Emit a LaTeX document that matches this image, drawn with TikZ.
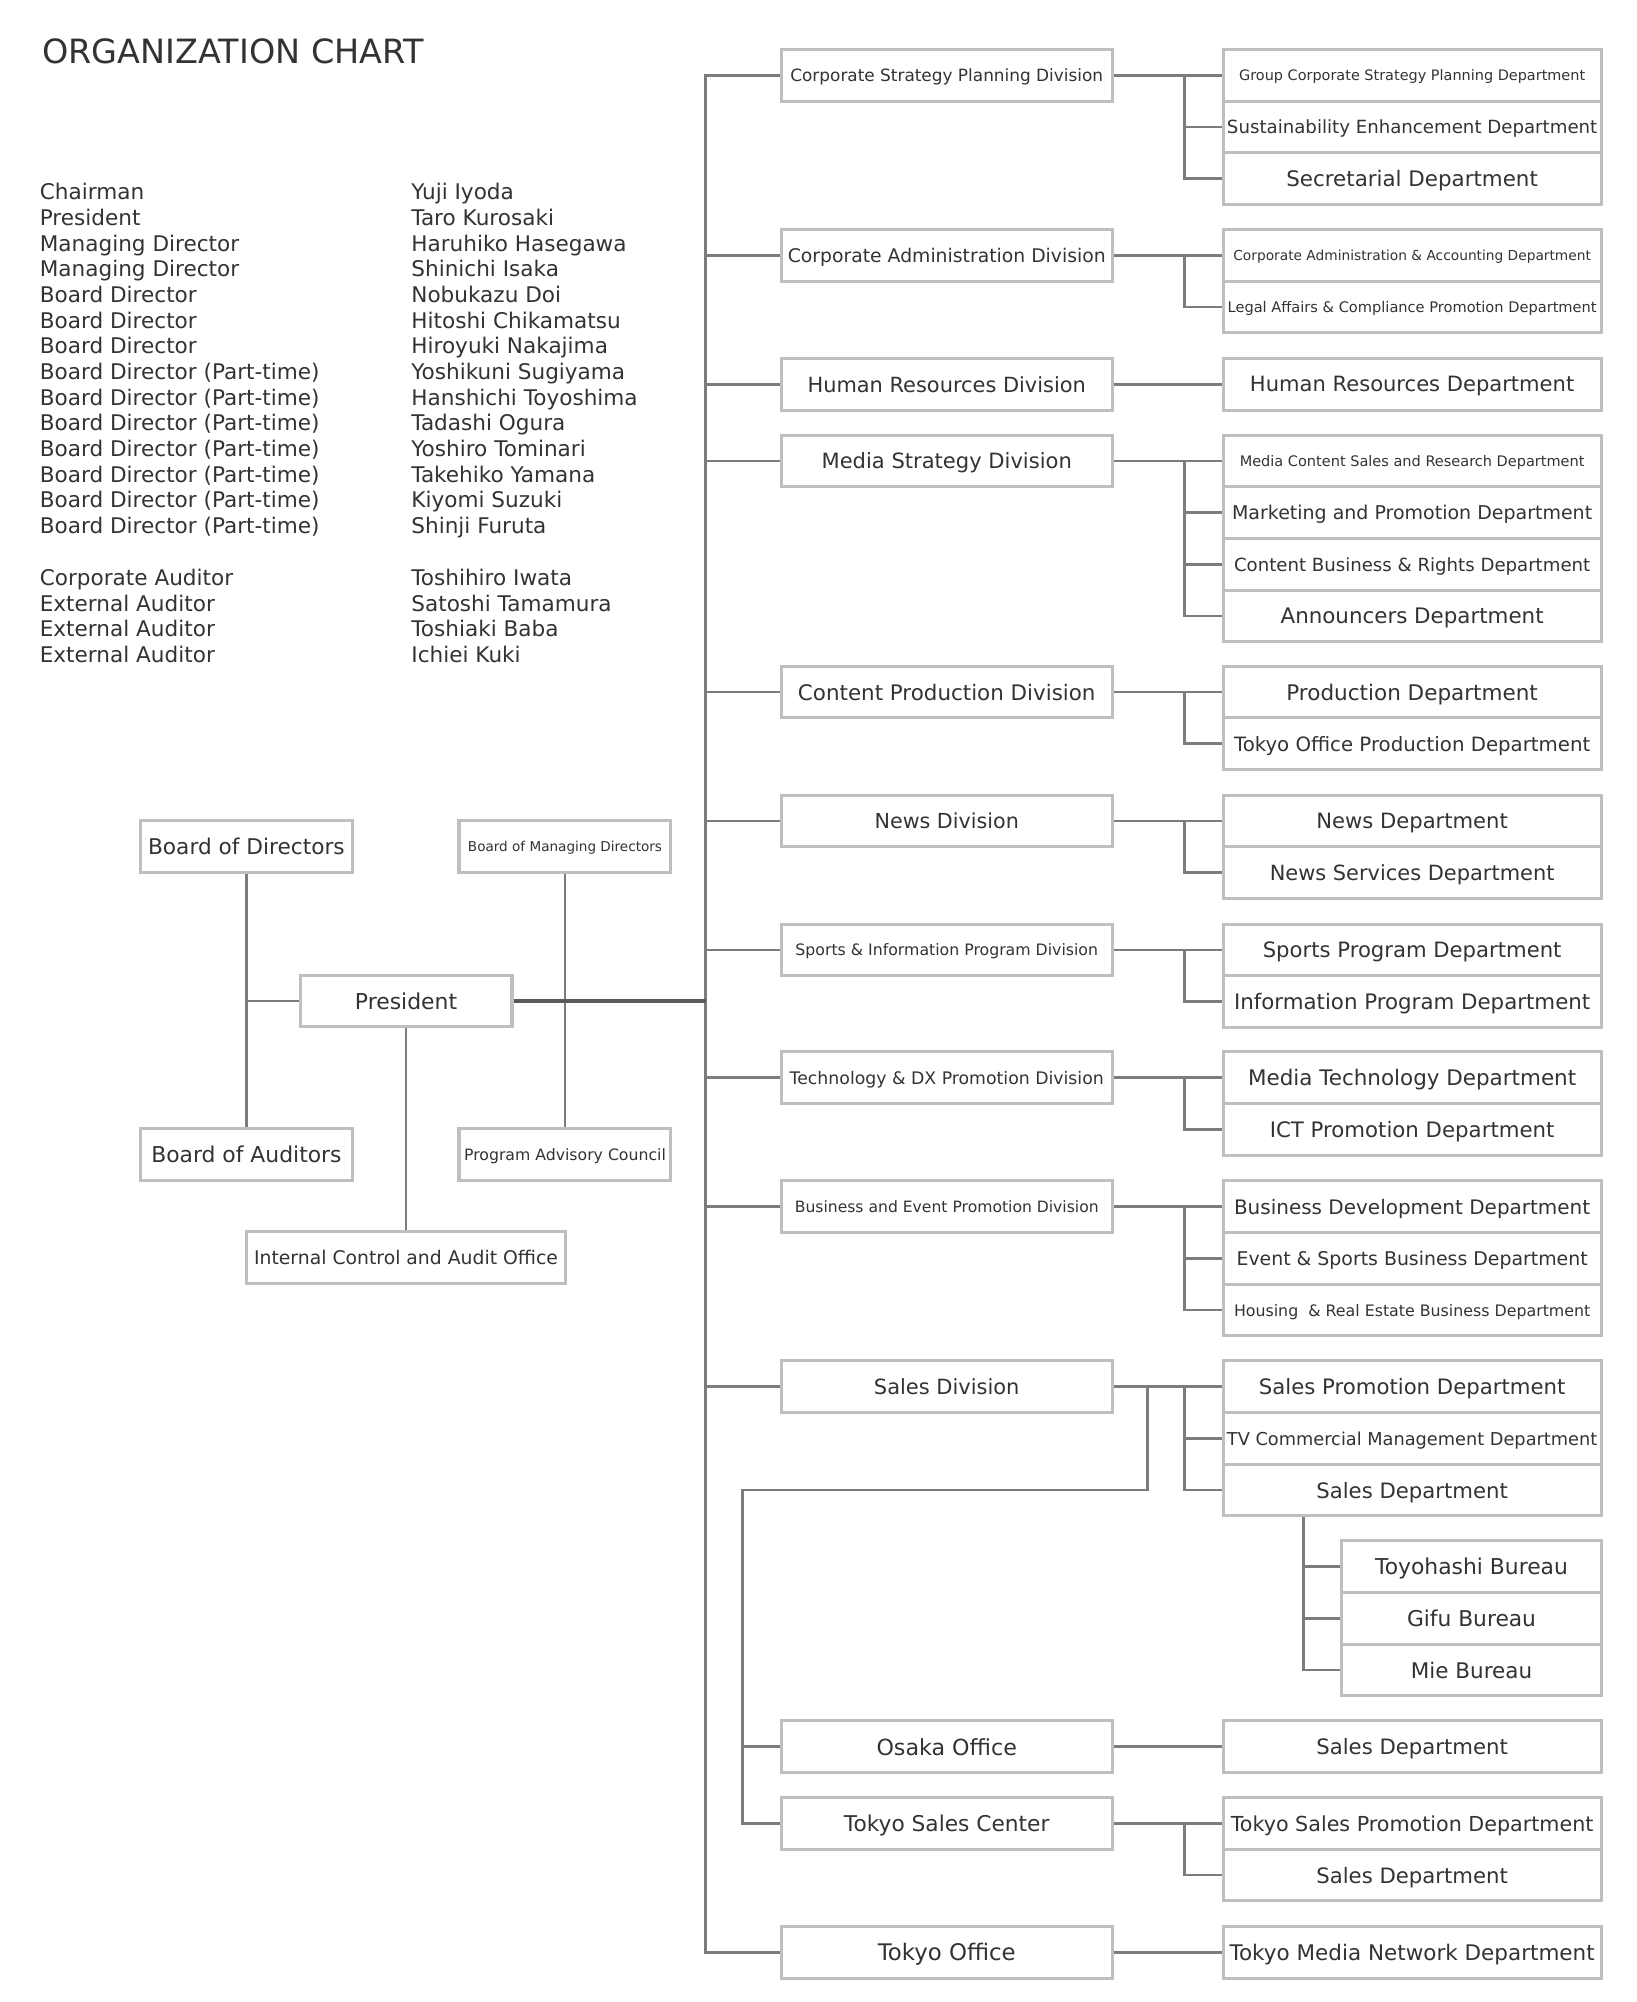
\documentclass[tikz,border=0pt]{standalone}
\usepackage{fontspec}
\setmainfont{DejaVu Sans}
\usepackage{graphicx}

\definecolor{ink}{HTML}{333333}
\definecolor{frame}{HTML}{BFBFBF}
\definecolor{wire}{HTML}{7C7C7C}
\definecolor{wiredark}{HTML}{5A5A5A}

\newcommand{\fitw}[2]{\resizebox{#1pt}{!}{#2}}

\tikzset{
  unit/.style={draw=frame, line width=2.4pt, fill=white, minimum height=40.5pt, inner sep=0pt, text depth=0pt, text=ink},
  div/.style={unit, minimum width=259pt},
  dept/.style={unit, minimum width=296pt},
  bureau/.style={unit, minimum width=203pt},
  board/.style={unit, minimum width=166pt},
  link/.style={draw=wire, line width=2.2pt},
  listtext/.style={anchor=base west, inner sep=0pt, text=ink, font=\fontsize{16.9}{20}\selectfont},
}

\begin{document}
\begin{tikzpicture}[x=1pt, y=-1pt]

\useasboundingbox (0,0) rectangle (1282,1568);
\fill[white] (0,0) rectangle (1282,1568);

\node[anchor=base west, inner sep=0pt, text=ink, font=\fontsize{26.2}{30}\selectfont] (title) at (33,50) {ORGANIZATION CHART};

% officers
\foreach \t [count=\i from 0] in {Chairman, President, Managing Director, Managing Director, Board Director, Board Director, Board Director, Board Director (Part-time), Board Director (Part-time), Board Director (Part-time), Board Director (Part-time), Board Director (Part-time), Board Director (Part-time), Board Director (Part-time)}
  \node[listtext] (post\i) at (31,{156.5+20.1*\i}) {\t};
\foreach \t [count=\i from 0] in {Yuji Iyoda, Taro Kurosaki, Haruhiko Hasegawa, Shinichi Isaka, Nobukazu Doi, Hitoshi Chikamatsu, Hiroyuki Nakajima, Yoshikuni Sugiyama, Hanshichi Toyoshima, Tadashi Ogura, Yoshiro Tominari, Takehiko Yamana, Kiyomi Suzuki, Shinji Furuta}
  \node[listtext] (name\i) at (322,{156.5+20.1*\i}) {\t};
\foreach \t [count=\i from 0] in {Corporate Auditor, External Auditor, External Auditor, External Auditor}
  \node[listtext] (audpost\i) at (31,{458.5+20.1*\i}) {\t};
\foreach \t [count=\i from 0] in {Toshihiro Iwata, Satoshi Tamamura, Toshiaki Baba, Ichiei Kuki}
  \node[listtext] (audname\i) at (322,{458.5+20.1*\i}) {\t};

% top management
\node[board] (bod) at (193,663) {\fitw{154}{Board of Directors}};
\node[board] (bomd) at (442.5,663) {\fitw{152}{Board of Managing Directors}};
\node[board] (pres) at (318,784) {\fitw{80}{President}};
\node[board] (boa) at (193,904) {\fitw{149}{Board of Auditors}};
\node[board] (pac) at (442.5,904) {\fitw{158}{Program Advisory Council}};
\node[unit, minimum width=250pt] (icao) at (318,985) {\fitw{238}{Internal Control and Audit Office}};

% divisions
\node[div] (csp) at (741.5,59) {\fitw{245}{Corporate Strategy Planning Division}};
\node[div] (cad) at (741.5,200) {\fitw{249}{Corporate Administration Division}};
\node[div] (hrv) at (741.5,301) {\fitw{218}{Human Resources Division}};
\node[div] (msv) at (741.5,361) {\fitw{196}{Media Strategy Division}};
\node[div] (cpv) at (741.5,542) {\fitw{233}{Content Production Division}};
\node[div] (nwv) at (741.5,643) {\fitw{113}{News Division}};
\node[div] (siv) at (741.5,744) {\fitw{237}{Sports \& Information Program Division}};
\node[div] (tdv) at (741.5,844) {\fitw{246}{Technology \& DX Promotion Division}};
\node[div] (bev) at (741.5,945) {\fitw{238}{Business and Event Promotion Division}};
\node[div] (slv) at (741.5,1086) {\fitw{114}{Sales Division}};
\node[div] (osk) at (741.5,1368) {\fitw{110}{Osaka Office}};
\node[div] (tsc) at (741.5,1428) {\fitw{161}{Tokyo Sales Center}};
\node[div] (tko) at (741.5,1529) {\fitw{108}{Tokyo Office}};

% departments
\node[dept] (gcs) at (1106,59) {\fitw{271}{Group Corporate Strategy Planning Department}};
\node[dept] (sed) at (1106,99.5) {\fitw{290}{Sustainability Enhancement Department}};
\node[dept] (sec) at (1106,140) {\fitw{197}{Secretarial Department}};
\node[dept] (caa) at (1106,200) {\fitw{280}{Corporate Administration \& Accounting Department}};
\node[dept] (lac) at (1106,240.5) {\fitw{289}{Legal Affairs \& Compliance Promotion Department}};
\node[dept] (hrd) at (1106,301) {\fitw{254}{Human Resources Department}};
\node[dept] (mcs) at (1106,361) {\fitw{270}{Media Content Sales and Research Department}};
\node[dept] (map) at (1106,401.5) {\fitw{282}{Marketing and Promotion Department}};
\node[dept] (cbr) at (1106,442) {\fitw{279}{Content Business \& Rights Department}};
\node[dept] (ann) at (1106,482.5) {\fitw{206}{Announcers Department}};
\node[dept] (prd) at (1106,542) {\fitw{197}{Production Department}};
\node[dept] (top) at (1106,582.5) {\fitw{279}{Tokyo Office Production Department}};
\node[dept] (nwd) at (1106,643) {\fitw{150}{News Department}};
\node[dept] (nsd) at (1106,683.5) {\fitw{223}{News Services Department}};
\node[dept] (spd) at (1106,744) {\fitw{234}{Sports Program Department}};
\node[dept] (ipd) at (1106,784.5) {\fitw{279}{Information Program Department}};
\node[dept] (mtd) at (1106,844) {\fitw{257}{Media Technology Department}};
\node[dept] (ict) at (1106,884.5) {\fitw{223}{ICT Promotion Department}};
\node[dept] (bdd) at (1106,945) {\fitw{279}{Business Development Department}};
\node[dept] (esd) at (1106,985.5) {\fitw{275}{Event \& Sports Business Department}};
\node[dept] (hre) at (1106,1026) {\fitw{279}{Housing\ \ \& Real Estate Business Department}};
\node[dept] (spr) at (1106,1086) {\fitw{240}{Sales Promotion Department}};
\node[dept] (tcm) at (1106,1126.5) {\fitw{290}{TV Commercial Management Department}};
\node[dept] (sal) at (1106,1167) {\fitw{150}{Sales Department}};
\node[bureau] (toy) at (1152.5,1227) {\fitw{151}{Toyohashi Bureau}};
\node[bureau] (gif) at (1152.5,1267.5) {\fitw{101}{Gifu Bureau}};
\node[bureau] (mie) at (1152.5,1308) {\fitw{95}{Mie Bureau}};
\node[dept] (osd) at (1106,1368) {\fitw{150}{Sales Department}};
\node[dept] (tsp) at (1106,1428) {\fitw{284}{Tokyo Sales Promotion Department}};
\node[dept] (tsd) at (1106,1468.5) {\fitw{150}{Sales Department}};
\node[dept] (tmn) at (1106,1529) {\fitw{286}{Tokyo Media Network Department}};

% left block
\draw[link] (bod) -- (boa);
\draw[link] (pres.west) -- (pres.west -| bod.south);
\draw[link] (bomd) -- (pac);
\draw[link] (pres) -- (icao);

% trunk
\coordinate (trunk) at ([xshift=-58pt]csp.west);
\draw[link] (csp.west) -- (trunk) |- (tko.west);
\foreach \d in {cad,hrv,msv,cpv,nwv,siv,tdv,bev,slv}
  \draw[link] (\d.west) -- (\d.west -| trunk);
\draw[link, draw=wiredark, line width=2.8pt] (pres.east) -- (pres.east -| trunk);

% divisions to departments
\foreach \v/\a/\z in {csp/gcs/sec, cad/caa/lac, msv/mcs/ann, cpv/prd/top, nwv/nwd/nsd, siv/spd/ipd, tdv/mtd/ict, bev/bdd/hre, slv/spr/sal, tsc/tsp/tsd}{
  \draw[link] (\v.east) -- (\a.west);
  \draw[link] ([xshift=-29pt]\a.west) |- (\z.west);
}
\foreach \m in {sed,map,cbr,esd,tcm}
  \draw[link] (\m.west) -- ++(-29pt,0);
\foreach \v/\a in {hrv/hrd, osk/osd, tko/tmn}
  \draw[link] (\v.east) -- (\a.west);

% sales offices
\draw[link] ([xshift=-58pt]spr.west) -- ([xshift=-58pt]sal.west) -| ([xshift=-29pt]tsc.west) -- (tsc.west);
\draw[link] (osk.west) -- ++(-29pt,0);

% bureaus
\coordinate (bb) at ([xshift=-29pt]toy.west);
\draw[link] (sal.south -| bb) |- (mie.west);
\draw[link] (bb) -- (toy.west);
\draw[link] (gif.west) -- ++(-29pt,0);

\end{tikzpicture}
\end{document}
